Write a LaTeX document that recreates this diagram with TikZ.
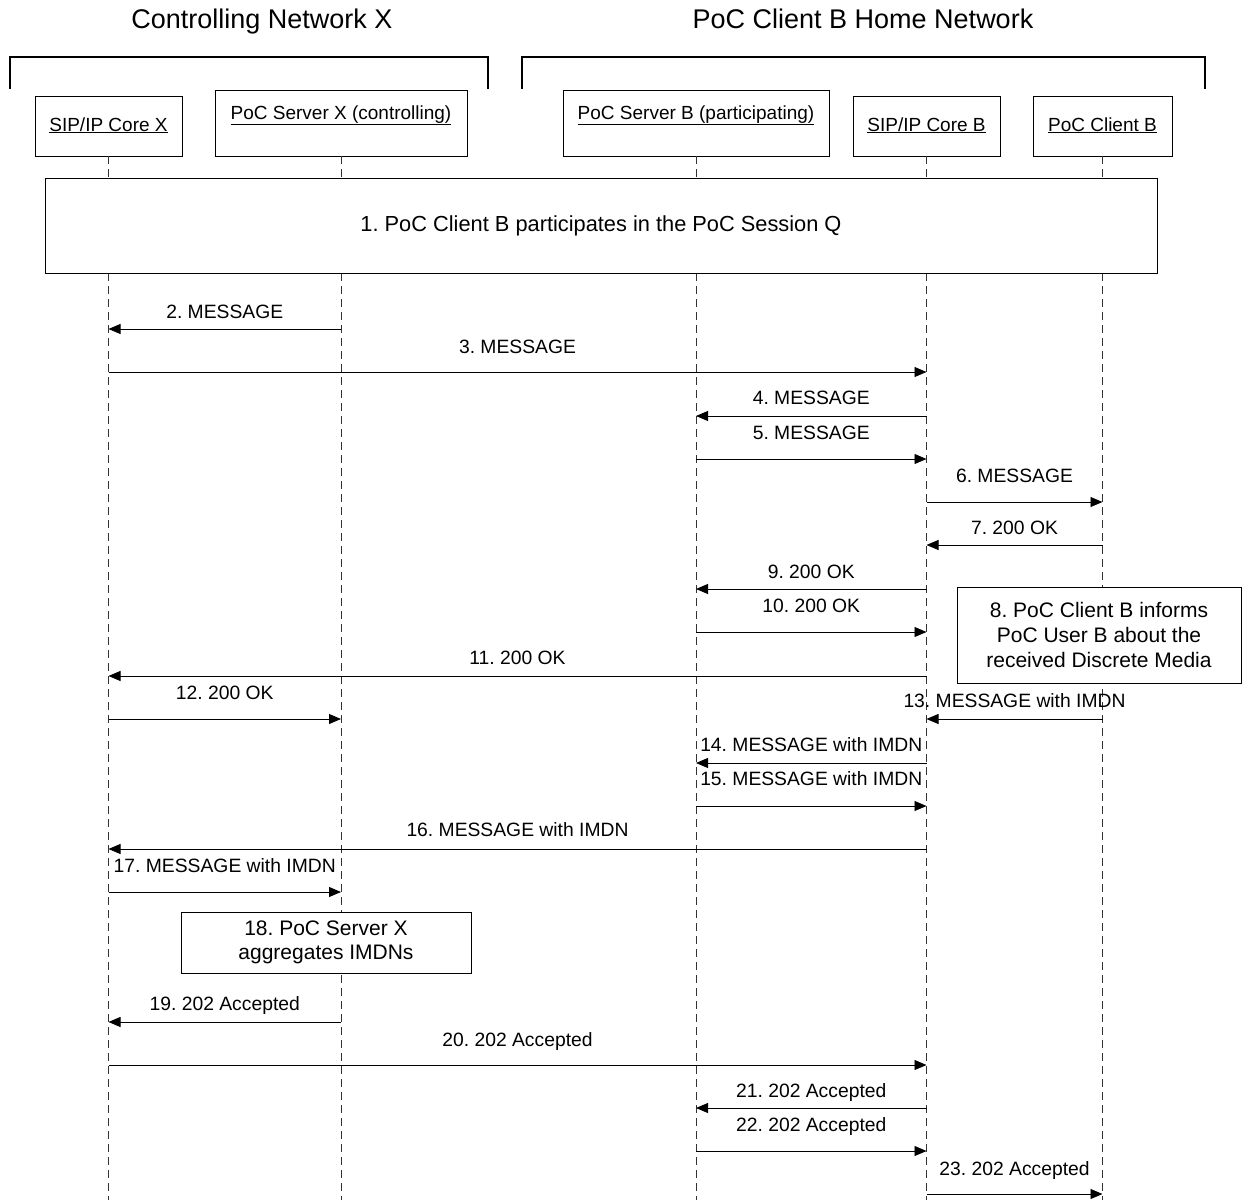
\documentclass[tikz,border=0pt]{standalone}
\usepackage{fontspec}
\setmainfont{Liberation Sans}
\usetikzlibrary{arrows.meta}
\frenchspacing
\definecolor{linec}{HTML}{000000}
\definecolor{lifec}{HTML}{333333}
\tikzset{
  partbox/.style={draw=linec, line width=0.8pt, fill=white, inner sep=0pt, font=\fontsize{19}{23}\selectfont, text height=14pt, text depth=4pt},
  tallbox/.style={partbox, text depth=22pt},
  lifeline/.style={draw=lifec, line width=1pt, dash pattern=on 8pt off 5pt},
  msg/.style={draw=linec, line width=0.9pt, -{Triangle[length=12pt,width=10pt]}},
  msgtext/.style={font=\fontsize{19.3}{23}\selectfont, inner sep=0pt, text height=17pt, text depth=4pt},
  notebox/.style={draw=linec, line width=0.8pt, fill=white, align=center, inner sep=0pt, font=\fontsize{21}{25}\selectfont},
  nettitle/.style={font=\fontsize{27}{32}\selectfont, inner sep=0pt, text height=20pt, text depth=6pt},
  bracket/.style={draw=linec, line width=1.2pt},
}

\begin{document}
\begin{tikzpicture}[x=1pt, y=-1pt]
\useasboundingbox (0,0) rectangle (1243,1200);
% networks
\node[nettitle] (netx) at (262,21) {Controlling Network X};
\node[nettitle] (netb) at (863,21) {PoC Client B Home Network};
\draw[bracket] (10,89) -- (10,57) -- (488,57) -- (488,89);
\draw[bracket] (522,89) -- (522,57) -- (1205,57) -- (1205,89);
% participants
\node[partbox, minimum width=147pt, minimum height=60pt] (sipx) at (108.5,126) {\underline{SIP/IP Core X}};
\node[tallbox, minimum width=252pt, minimum height=66pt] (psx) at (341,123) {\underline{PoC Server X (controlling)}};
\node[tallbox, minimum width=266pt, minimum height=66pt] (psb) at (696,123) {\underline{PoC Server B (participating)}};
\node[partbox, minimum width=147pt, minimum height=60pt] (sipb) at (926.5,126) {\underline{SIP/IP Core B}};
\node[partbox, minimum width=139pt, minimum height=60pt] (clb) at (1102.5,126) {\underline{PoC Client B}};
\foreach \p in {sipx,psx,psb,sipb,clb}
  \draw[lifeline] (\p.south) -- (\p.south |- 0,1200);
% procedure boxes
\node[notebox, minimum width=1112pt, minimum height=95pt, font=\fontsize{21.8}{25}\selectfont] (s1) at (601,225.5) {1. PoC Client B participates in the PoC Session Q};
\node[notebox, minimum width=284pt, minimum height=96pt] (s8) at (1099,635) {8. PoC Client B informs\\PoC User B about the\\received Discrete Media};
\node[notebox, minimum width=290pt, minimum height=61pt, font=\fontsize{21}{24}\selectfont] (s18) at (326,942.5) {18. PoC Server X\\aggregates IMDNs};
% messages
\draw[msg] (psx |- 0,329) -- node[msgtext, yshift=17pt] (m2) {2. MESSAGE} (sipx |- 0,329);
\draw[msg] (sipx |- 0,372) -- node[msgtext, yshift=25pt] (m3) {3. MESSAGE} (sipb |- 0,372);
\draw[msg] (sipb |- 0,416) -- node[msgtext, yshift=18pt] (m4) {4. MESSAGE} (psb |- 0,416);
\draw[msg] (psb |- 0,459) -- node[msgtext, yshift=26pt] (m5) {5. MESSAGE} (sipb |- 0,459);
\draw[msg] (sipb |- 0,502) -- node[msgtext, yshift=26pt] (m6) {6. MESSAGE} (clb |- 0,502);
\draw[msg] (clb |- 0,545) -- node[msgtext, yshift=17pt] (m7) {7. 200 OK} (sipb |- 0,545);
\draw[msg] (sipb |- 0,589) -- node[msgtext, yshift=17pt] (m9) {9. 200 OK} (psb |- 0,589);
\draw[msg] (psb |- 0,632) -- node[msgtext, yshift=26pt] (m10) {10. 200 OK} (sipb |- 0,632);
\draw[msg] (sipb |- 0,676) -- node[msgtext, yshift=18pt] (m11) {11. 200 OK} (sipx |- 0,676);
\draw[msg] (sipx |- 0,719) -- node[msgtext, yshift=26pt] (m12) {12. 200 OK} (psx |- 0,719);
\draw[msg] (clb |- 0,719) -- node[msgtext, yshift=18pt] (m13) {13. MESSAGE with IMDN} (sipb |- 0,719);
\draw[msg] (sipb |- 0,763) -- node[msgtext, yshift=18pt] (m14) {14. MESSAGE with IMDN} (psb |- 0,763);
\draw[msg] (psb |- 0,806) -- node[msgtext, yshift=27pt] (m15) {15. MESSAGE with IMDN} (sipb |- 0,806);
\draw[msg] (sipb |- 0,849) -- node[msgtext, yshift=19pt] (m16) {16. MESSAGE with IMDN} (sipx |- 0,849);
\draw[msg] (sipx |- 0,892) -- node[msgtext, yshift=26pt] (m17) {17. MESSAGE with IMDN} (psx |- 0,892);
\draw[msg] (psx |- 0,1022) -- node[msgtext, yshift=18pt] (m19) {19. 202 Accepted} (sipx |- 0,1022);
\draw[msg] (sipx |- 0,1065) -- node[msgtext, yshift=25pt] (m20) {20. 202 Accepted} (sipb |- 0,1065);
\draw[msg] (sipb |- 0,1108) -- node[msgtext, yshift=17pt] (m21) {21. 202 Accepted} (psb |- 0,1108);
\draw[msg] (psb |- 0,1151) -- node[msgtext, yshift=26pt] (m22) {22. 202 Accepted} (sipb |- 0,1151);
\draw[msg] (sipb |- 0,1194) -- node[msgtext, yshift=25pt] (m23) {23. 202 Accepted} (clb |- 0,1194);
\end{tikzpicture}
\end{document}
